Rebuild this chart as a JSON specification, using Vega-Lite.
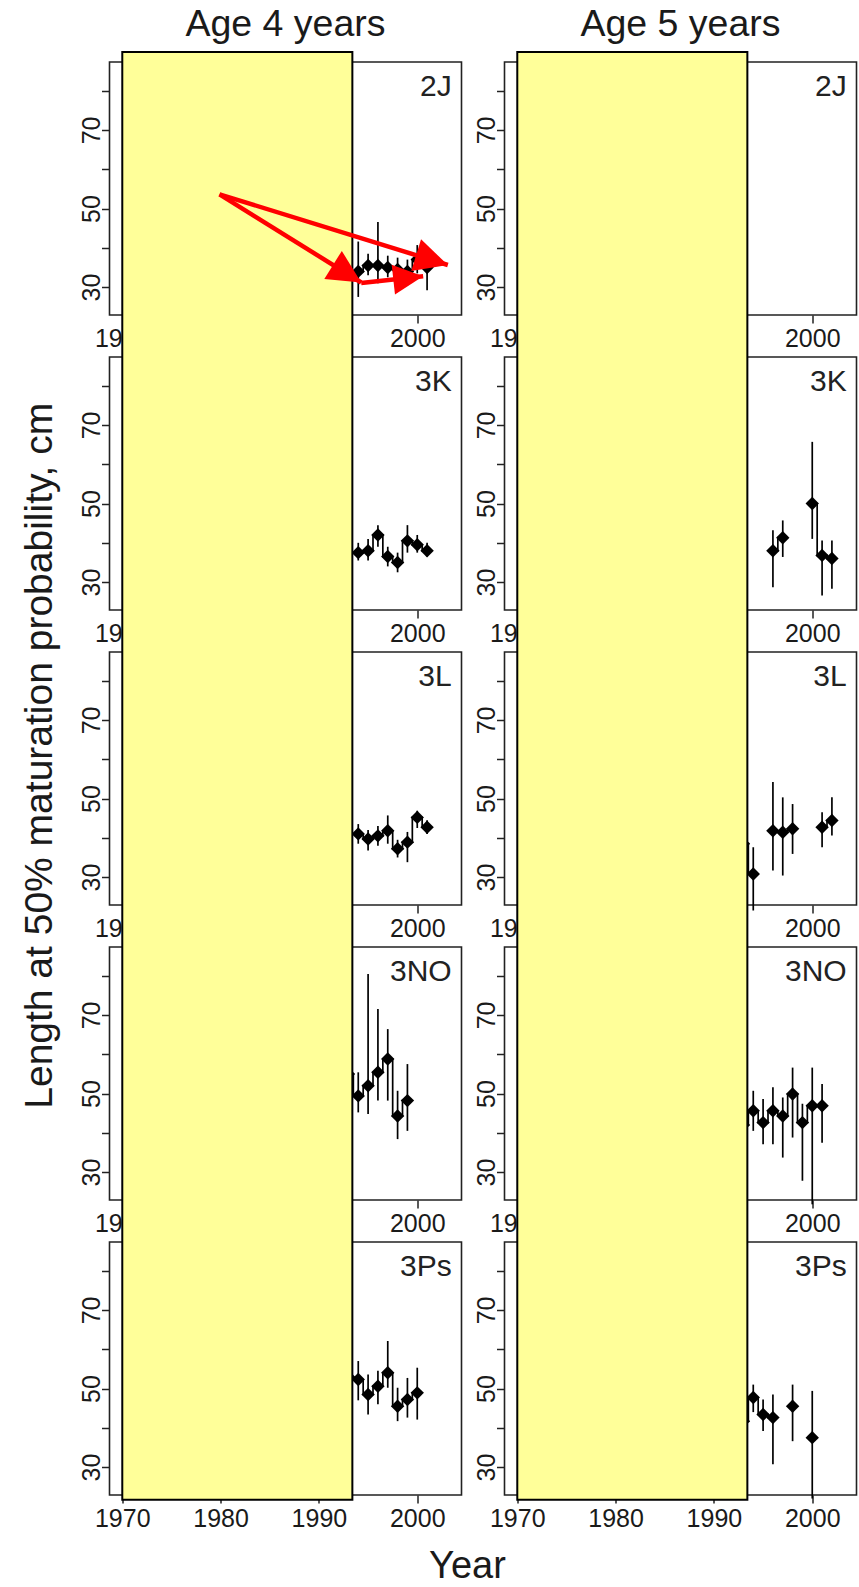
{
  "$schema": "https://vega.github.io/schema/vega-lite/v6.json",
  "background": "white",
  "padding": {"left": 20.5, "top": 5, "right": 0, "bottom": 0},
  "title": {"text": "Length at 50% maturation probability, cm", "orient": "left", "anchor": "middle", "fontSize": 39, "font": "Liberation Sans", "fontWeight": "normal", "color": "#1a1a1a", "offset": -12.5, "baseline": "alphabetic", "dx": 40},
  "config": {
    "font": "Liberation Sans",
    "view": {"stroke": "#222", "strokeWidth": 1.6},
    "axis": {"domain": false, "grid": false, "ticks": true, "tickColor": "#222", "tickWidth": 1.5, "tickSize": 8, "labelFont": "Liberation Sans", "labelFontSize": 25, "labelColor": "#1a1a1a", "title": null},
    "header": {"labelFont": "Liberation Sans", "titleFont": "Liberation Sans", "labelColor": "#1a1a1a", "titleColor": "#1a1a1a", "titleFontWeight": "normal"}
  },
  "data": {"values": [
    {"kind":"obs","area":"2J","age":"Age 4 years","year":1994,"len":34,"lo":27.5,"hi":41.6},
    {"kind":"obs","area":"2J","age":"Age 4 years","year":1995,"len":35.5,"lo":33,"hi":38.5},
    {"kind":"obs","area":"2J","age":"Age 4 years","year":1996,"len":35.5,"lo":31,"hi":46.6},
    {"kind":"obs","area":"2J","age":"Age 4 years","year":1997,"len":35,"lo":32.5,"hi":38},
    {"kind":"obs","area":"2J","age":"Age 4 years","year":1998,"len":34.5,"lo":32,"hi":37.5},
    {"kind":"obs","area":"2J","age":"Age 4 years","year":1999,"len":34,"lo":31.5,"hi":37},
    {"kind":"obs","area":"2J","age":"Age 4 years","year":2000,"len":37,"lo":33.5,"hi":40.7},
    {"kind":"obs","area":"2J","age":"Age 4 years","year":2001,"len":35,"lo":29.2,"hi":38.5},

    {"kind":"obs","area":"3K","age":"Age 4 years","year":1994,"len":37.5,"lo":35.5,"hi":40},
    {"kind":"obs","area":"3K","age":"Age 4 years","year":1995,"len":38,"lo":35.5,"hi":41},
    {"kind":"obs","area":"3K","age":"Age 4 years","year":1996,"len":42,"lo":39,"hi":44.5},
    {"kind":"obs","area":"3K","age":"Age 4 years","year":1997,"len":36.5,"lo":34,"hi":39},
    {"kind":"obs","area":"3K","age":"Age 4 years","year":1998,"len":35,"lo":32.5,"hi":37.5},
    {"kind":"obs","area":"3K","age":"Age 4 years","year":1999,"len":40.5,"lo":37.5,"hi":44.5},
    {"kind":"obs","area":"3K","age":"Age 4 years","year":2000,"len":39.5,"lo":37.5,"hi":42},
    {"kind":"obs","area":"3K","age":"Age 4 years","year":2001,"len":38,"lo":36.5,"hi":40},

    {"kind":"obs","area":"3K","age":"Age 5 years","year":1996,"len":38,"lo":28.7,"hi":43.2},
    {"kind":"obs","area":"3K","age":"Age 5 years","year":1997,"len":41.3,"lo":36.4,"hi":45.7},
    {"kind":"obs","area":"3K","age":"Age 5 years","year":1998,"len":null,"lo":null,"hi":null},
    {"kind":"obs","area":"3K","age":"Age 5 years","year":1999,"len":null,"lo":null,"hi":null},
    {"kind":"obs","area":"3K","age":"Age 5 years","year":2000,"len":50,"lo":41,"hi":65.7},
    {"kind":"obs","area":"3K","age":"Age 5 years","year":2001,"len":36.8,"lo":26.6,"hi":40.6},
    {"kind":"obs","area":"3K","age":"Age 5 years","year":2002,"len":36,"lo":28.3,"hi":40.6},

    {"kind":"obs","area":"3L","age":"Age 4 years","year":1994,"len":41,"lo":38.5,"hi":43.5},
    {"kind":"obs","area":"3L","age":"Age 4 years","year":1995,"len":39.7,"lo":36.8,"hi":42},
    {"kind":"obs","area":"3L","age":"Age 4 years","year":1996,"len":40.5,"lo":38,"hi":43},
    {"kind":"obs","area":"3L","age":"Age 4 years","year":1997,"len":41.8,"lo":38.5,"hi":45.7},
    {"kind":"obs","area":"3L","age":"Age 4 years","year":1998,"len":37.2,"lo":35,"hi":39.5},
    {"kind":"obs","area":"3L","age":"Age 4 years","year":1999,"len":38.9,"lo":33.8,"hi":41.5},
    {"kind":"obs","area":"3L","age":"Age 4 years","year":2000,"len":45.2,"lo":42.5,"hi":46.9},
    {"kind":"obs","area":"3L","age":"Age 4 years","year":2001,"len":42.7,"lo":41,"hi":44.5},

    {"kind":"obs","area":"3L","age":"Age 5 years","year":1993,"len":38.5,"lo":35,"hi":42},
    {"kind":"obs","area":"3L","age":"Age 5 years","year":1994,"len":30.8,"lo":21.5,"hi":37.6},
    {"kind":"obs","area":"3L","age":"Age 5 years","year":1995,"len":null,"lo":null,"hi":null},
    {"kind":"obs","area":"3L","age":"Age 5 years","year":1996,"len":41.8,"lo":31.7,"hi":54.2},
    {"kind":"obs","area":"3L","age":"Age 5 years","year":1997,"len":41.4,"lo":30.4,"hi":50.3},
    {"kind":"obs","area":"3L","age":"Age 5 years","year":1998,"len":42.3,"lo":35.9,"hi":48.6},
    {"kind":"obs","area":"3L","age":"Age 5 years","year":1999,"len":null,"lo":null,"hi":null},
    {"kind":"obs","area":"3L","age":"Age 5 years","year":2000,"len":null,"lo":null,"hi":null},
    {"kind":"obs","area":"3L","age":"Age 5 years","year":2001,"len":42.7,"lo":37.6,"hi":46.5},
    {"kind":"obs","area":"3L","age":"Age 5 years","year":2002,"len":44.4,"lo":40.6,"hi":50.3},

    {"kind":"obs","area":"3NO","age":"Age 4 years","year":1993,"len":55,"lo":50,"hi":60},
    {"kind":"obs","area":"3NO","age":"Age 4 years","year":1994,"len":49.4,"lo":45.2,"hi":55.4},
    {"kind":"obs","area":"3NO","age":"Age 4 years","year":1995,"len":52,"lo":44.8,"hi":80.4},
    {"kind":"obs","area":"3NO","age":"Age 4 years","year":1996,"len":55.4,"lo":48.2,"hi":71.5},
    {"kind":"obs","area":"3NO","age":"Age 4 years","year":1997,"len":58.8,"lo":48.2,"hi":66.4},
    {"kind":"obs","area":"3NO","age":"Age 4 years","year":1998,"len":44.3,"lo":38.4,"hi":50.7},
    {"kind":"obs","area":"3NO","age":"Age 4 years","year":1999,"len":48.2,"lo":40.5,"hi":57.5},

    {"kind":"obs","area":"3NO","age":"Age 5 years","year":1993,"len":42,"lo":38,"hi":48},
    {"kind":"obs","area":"3NO","age":"Age 5 years","year":1994,"len":45.6,"lo":40.5,"hi":50.7},
    {"kind":"obs","area":"3NO","age":"Age 5 years","year":1995,"len":42.6,"lo":37.1,"hi":48.6},
    {"kind":"obs","area":"3NO","age":"Age 5 years","year":1996,"len":45.6,"lo":37.1,"hi":51.6},
    {"kind":"obs","area":"3NO","age":"Age 5 years","year":1997,"len":44.3,"lo":33.7,"hi":49},
    {"kind":"obs","area":"3NO","age":"Age 5 years","year":1998,"len":49.9,"lo":38.8,"hi":56.6},
    {"kind":"obs","area":"3NO","age":"Age 5 years","year":1999,"len":42.6,"lo":27.8,"hi":47.4},
    {"kind":"obs","area":"3NO","age":"Age 5 years","year":2000,"len":46.9,"lo":21.8,"hi":56.6},
    {"kind":"obs","area":"3NO","age":"Age 5 years","year":2001,"len":46.9,"lo":37.5,"hi":52.4},

    {"kind":"obs","area":"3Ps","age":"Age 4 years","year":1993,"len":53,"lo":50,"hi":56},
    {"kind":"obs","area":"3Ps","age":"Age 4 years","year":1994,"len":52.3,"lo":47,"hi":57},
    {"kind":"obs","area":"3Ps","age":"Age 4 years","year":1995,"len":48.5,"lo":43.4,"hi":53.6},
    {"kind":"obs","area":"3Ps","age":"Age 4 years","year":1996,"len":50.6,"lo":46,"hi":54.5},
    {"kind":"obs","area":"3Ps","age":"Age 4 years","year":1997,"len":54,"lo":50.2,"hi":62.1},
    {"kind":"obs","area":"3Ps","age":"Age 4 years","year":1998,"len":45.5,"lo":41.7,"hi":50.2},
    {"kind":"obs","area":"3Ps","age":"Age 4 years","year":1999,"len":47.2,"lo":42.6,"hi":52.7},
    {"kind":"obs","area":"3Ps","age":"Age 4 years","year":2000,"len":48.9,"lo":42.1,"hi":55.3},

    {"kind":"obs","area":"3Ps","age":"Age 5 years","year":1993,"len":41.7,"lo":38,"hi":45},
    {"kind":"obs","area":"3Ps","age":"Age 5 years","year":1994,"len":47.7,"lo":44,"hi":51},
    {"kind":"obs","area":"3Ps","age":"Age 5 years","year":1995,"len":43.4,"lo":39.2,"hi":47.2},
    {"kind":"obs","area":"3Ps","age":"Age 5 years","year":1996,"len":42.6,"lo":30.7,"hi":48.5},
    {"kind":"obs","area":"3Ps","age":"Age 5 years","year":1997,"len":null,"lo":null,"hi":null},
    {"kind":"obs","area":"3Ps","age":"Age 5 years","year":1998,"len":45.5,"lo":36.6,"hi":51},
    {"kind":"obs","area":"3Ps","age":"Age 5 years","year":1999,"len":null,"lo":null,"hi":null},
    {"kind":"obs","area":"3Ps","age":"Age 5 years","year":2000,"len":37.5,"lo":22,"hi":49.4},

    {"kind":"label","area":"2J","age":"Age 4 years"},
    {"kind":"label","area":"2J","age":"Age 5 years"},
    {"kind":"label","area":"3K","age":"Age 4 years"},
    {"kind":"label","area":"3K","age":"Age 5 years"},
    {"kind":"label","area":"3L","age":"Age 4 years"},
    {"kind":"label","area":"3L","age":"Age 5 years"},
    {"kind":"label","area":"3NO","age":"Age 4 years"},
    {"kind":"label","area":"3NO","age":"Age 5 years"},
    {"kind":"label","area":"3Ps","age":"Age 4 years"},
    {"kind":"label","area":"3Ps","age":"Age 5 years"},

    {"kind":"shade","area":"3Ps","age":"Age 4 years"},
    {"kind":"shade","area":"3Ps","age":"Age 5 years"},

    {"kind":"arrow","name":"A","area":"3Ps","age":"Age 4 years","year":1979.89,"len":353.98,"year2":1994.3,"len2":331.53},
    {"kind":"arrow","name":"B","area":"3Ps","age":"Age 4 years","year":1979.89,"len":353.98,"year2":2003.11,"len2":335.99},
    {"kind":"arrow","name":"C","area":"3Ps","age":"Age 4 years","year":1994.3,"len":331.4,"year2":2000.6,"len2":333.1}
  ]},
  "facet": {
    "row": {"field": "area", "type": "nominal", "sort": ["2J","3K","3L","3NO","3Ps"],
      "header": {"labels": false, "title": null}},
    "column": {"field": "age", "type": "nominal", "sort": ["Age 4 years","Age 5 years"],
      "header": {"title": "Year", "titleOrient": "bottom", "labelOrient": "top", "labelFontSize": 37.5, "labelBaseline": "alphabetic", "labelPadding": -11, "titleFontSize": 38, "titleBaseline": "alphabetic", "titlePadding": 73}}
  },
  "spacing": {"row": 42, "column": 43},
  "bounds": "flush",
  "resolve": {"axis": {"x": "independent", "y": "independent"}},
  "spec": {
    "width": 352,
    "height": 253,
    "layer": [
      {
        "transform": [{"filter": "datum.kind === 'obs'"}],
        "mark": {"type": "rule", "color": "#000", "strokeWidth": 1.7},
        "encoding": {
          "x": {"field": "year", "type": "quantitative", "scale": {"domain": [1968.7, 2004.5], "nice": false, "zero": false},
            "axis": {"values": [1970, 1980, 1990, 2000], "format": "d", "labelFlush": false, "labelOverlap": false, "labelPadding": 3}},
          "y": {"field": "lo", "type": "quantitative", "scale": {"domain": [22.9, 87.3], "nice": false, "zero": false},
            "axis": {"values": [30, 40, 50, 60, 70, 80], "labelExpr": "datum.value % 20 === 10 ? datum.label : ''", "labelAngle": 270, "labelAlign": "center", "labelBaseline": "alphabetic", "labelPadding": 2}},
          "y2": {"field": "hi"}
        }
      },
      {
        "transform": [{"filter": "datum.kind === 'obs'"}],
        "mark": {"type": "line", "interpolate": "step", "color": "#000", "strokeWidth": 1.7},
        "encoding": {
          "x": {"field": "year", "type": "quantitative", "scale": {"domain": [1968.7, 2004.5], "nice": false, "zero": false}},
          "y": {"field": "len", "type": "quantitative", "scale": {"domain": [22.9, 87.3], "nice": false, "zero": false}}
        }
      },
      {
        "transform": [{"filter": "datum.kind === 'obs'"}],
        "mark": {"type": "point", "shape": "diamond", "filled": true, "color": "#000", "size": 180, "opacity": 1},
        "encoding": {
          "x": {"field": "year", "type": "quantitative", "scale": {"domain": [1968.7, 2004.5], "nice": false, "zero": false}},
          "y": {"field": "len", "type": "quantitative", "scale": {"domain": [22.9, 87.3], "nice": false, "zero": false}}
        }
      },
      {
        "transform": [{"filter": "datum.kind === 'label'"}],
        "mark": {"type": "text", "align": "right", "baseline": "top", "fontSize": 30, "font": "Liberation Sans", "color": "#222"},
        "encoding": {
          "x": {"datum": 2003.5, "type": "quantitative", "scale": {"domain": [1968.7, 2004.5], "nice": false, "zero": false}},
          "y": {"datum": 84.8, "type": "quantitative", "scale": {"domain": [22.9, 87.3], "nice": false, "zero": false}},
          "text": {"field": "area"}
        }
      },
      {
        "transform": [{"filter": "datum.kind === 'shade'"}],
        "mark": {"type": "rect", "fill": "#FFFF99", "stroke": "#000", "strokeWidth": 2},
        "encoding": {
          "x": {"datum": 1970, "type": "quantitative", "scale": {"domain": [1968.7, 2004.5], "nice": false, "zero": false}},
          "x2": {"datum": 1993.4},
          "y": {"datum": 21.7, "type": "quantitative", "scale": {"domain": [22.9, 87.3], "nice": false, "zero": false}},
          "y2": {"datum": 390.2}
        }
      },
      {
        "transform": [{"filter": "datum.kind === 'arrow'"}],
        "mark": {"type": "rule", "color": "#FF0000", "strokeWidth": 4.5},
        "encoding": {
          "x": {"field": "year", "type": "quantitative", "scale": {"domain": [1968.7, 2004.5], "nice": false, "zero": false}},
          "y": {"field": "len", "type": "quantitative", "scale": {"domain": [22.9, 87.3], "nice": false, "zero": false}},
          "x2": {"field": "year2"},
          "y2": {"field": "len2"}
        }
      },
      {
        "transform": [{"filter": "datum.kind === 'arrow' && datum.name === 'A'"}],
        "mark": {"type": "point", "shape": "M0,0L-1,-0.5L-1,0.5Z", "filled": true, "color": "#FF0000", "opacity": 1, "size": 4400, "angle": 31.9, "strokeWidth": 0},
        "encoding": {
          "x": {"field": "year2", "type": "quantitative", "scale": {"domain": [1968.7, 2004.5], "nice": false, "zero": false}},
          "y": {"field": "len2", "type": "quantitative", "scale": {"domain": [22.9, 87.3], "nice": false, "zero": false}}
        }
      },
      {
        "transform": [{"filter": "datum.kind === 'arrow' && datum.name === 'B'"}],
        "mark": {"type": "point", "shape": "M0,0L-1,-0.5L-1,0.5Z", "filled": true, "color": "#FF0000", "opacity": 1, "size": 4400, "angle": 17.2, "strokeWidth": 0},
        "encoding": {
          "x": {"field": "year2", "type": "quantitative", "scale": {"domain": [1968.7, 2004.5], "nice": false, "zero": false}},
          "y": {"field": "len2", "type": "quantitative", "scale": {"domain": [22.9, 87.3], "nice": false, "zero": false}}
        }
      },
      {
        "transform": [{"filter": "datum.kind === 'arrow' && datum.name === 'C'"}],
        "mark": {"type": "point", "shape": "M0,0L-1,-0.5L-1,0.5Z", "filled": true, "color": "#FF0000", "opacity": 1, "size": 3600, "angle": -6.3, "strokeWidth": 0},
        "encoding": {
          "x": {"field": "year2", "type": "quantitative", "scale": {"domain": [1968.7, 2004.5], "nice": false, "zero": false}},
          "y": {"field": "len2", "type": "quantitative", "scale": {"domain": [22.9, 87.3], "nice": false, "zero": false}}
        }
      }
    ]
  }
}
